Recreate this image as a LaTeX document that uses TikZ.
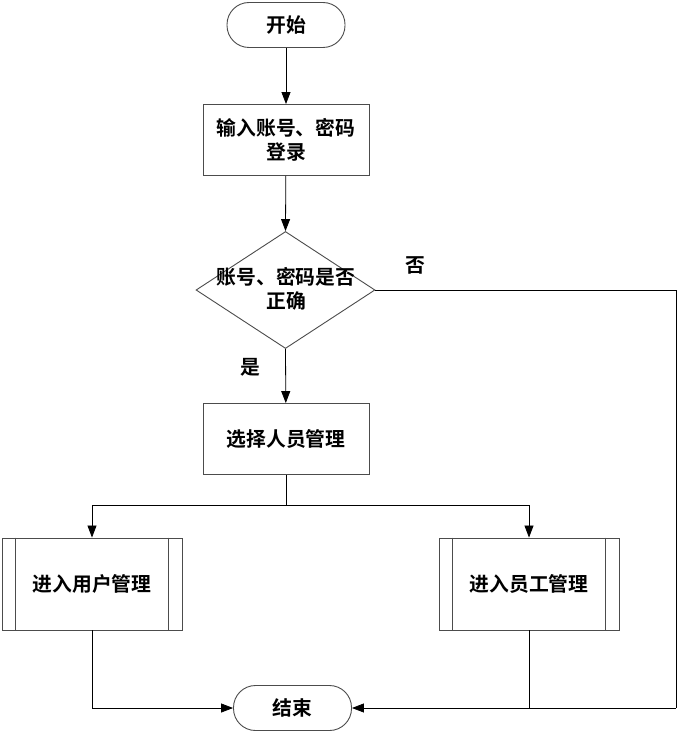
\documentclass[tikz,border=0pt]{standalone}
\usepackage{fontspec}
\newfontfamily\cjk{Noto Sans CJK SC}[BoldFont={Noto Sans CJK SC Bold}]
\usetikzlibrary{arrows.meta,shapes.geometric}
\begin{document}
\begin{tikzpicture}[x=1pt,y=-1pt,
  font=\cjk\bfseries\fontsize{19.8}{24}\selectfont,
  shp/.style={draw=black!70,line width=0.9pt,fill=white},
  term/.style={shp,rounded corners=22pt,minimum width=118pt,minimum height=45pt,inner sep=0pt},
  proc/.style={shp,minimum width=166pt,minimum height=71pt,inner sep=0pt,align=center},
  sub/.style={shp,minimum width=180pt,minimum height=92pt,inner sep=0pt},
  conn/.style={draw=black,line width=0.8pt},
  arr/.style={conn,-{Triangle[length=12pt,width=9pt]}},
  lbl/.style={inner sep=0pt}]
\useasboundingbox (0,0) rectangle (694,733);
\node[term] (start) at (286,25) {开始};
\node[proc] (login) at (286,140) {输入账号、密码\\登录};
\node[shp,diamond,minimum width=179pt,minimum height=117pt,inner sep=0pt] (dec) at (285.5,290) {};
\node[lbl,align=center] (dect) at (286,289) {账号、密码是否\\正确};
\node[proc] (sel) at (286,439) {选择人员管理};
\node[sub] (user) at (92,584) {进入用户管理};
\node[sub] (emp) at (529,584) {进入员工管理};
\node[term] (end) at (292.5,708) {结束};
\foreach \n in {user,emp}{
  \draw[draw=black!70,line width=0.9pt] ([xshift=14pt]\n.north west) -- ([xshift=14pt]\n.south west);
  \draw[draw=black!70,line width=0.9pt] ([xshift=-14pt]\n.north east) -- ([xshift=-14pt]\n.south east);
}
\node[lbl] (no) at (415,265) {否};
\node[lbl] (yes) at (250,367) {是};
\coordinate (split) at (286,505);
\coordinate (rt) at (676,290);
\coordinate (rb) at (676,708);
\draw[arr] (start) -- (login);
\draw[arr] (login) -- (dec.north);
\draw[arr] (dec.south) -- (sel);
\draw[conn] (sel.south) -- (split);
\draw[arr] (split) -| (user.north);
\draw[arr] (split) -| (emp.north);
\draw[arr] (user.south) |- (end.west);
\draw[conn] (dec.east) -- (rt) -- (rb);
\draw[arr] (rb) -- (end.east);
\draw[conn] (emp.south) -- (emp.south |- end.east);
\end{tikzpicture}
\end{document}
